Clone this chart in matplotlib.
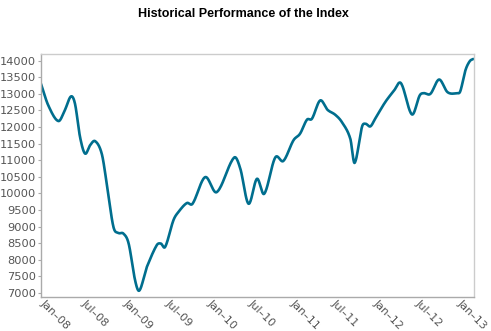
import numpy as np
import pandas as pd
import matplotlib
matplotlib.use("Agg")
import matplotlib.pyplot as plt
import matplotlib.dates as mdates

# Index level at turning points and in-between readings
dates = [
    "2007-12-12", "2008-01-13", "2008-02-26", "2008-03-25", "2008-04-21",
    "2008-05-09", "2008-05-31", "2008-06-22", "2008-07-14", "2008-08-05",
    "2008-09-03", "2008-09-25", "2008-10-24", "2008-11-15", "2008-12-07",
    "2008-12-30", "2009-01-27", "2009-02-14", "2009-03-12", "2009-03-20",
    "2009-05-02", "2009-05-20", "2009-06-08", "2009-07-14", "2009-08-05",
    "2009-09-11", "2009-10-06", "2009-11-30", "2010-01-20", "2010-04-06",
    "2010-05-03", "2010-06-08", "2010-07-15", "2010-08-16", "2010-10-03",
    "2010-11-08", "2010-12-22", "2011-01-20", "2011-02-19", "2011-03-13",
    "2011-04-18", "2011-05-20", "2011-06-23", "2011-07-22", "2011-08-28",
    "2011-09-16", "2011-10-18", "2011-11-02", "2011-11-24", "2011-12-15",
    "2012-01-28", "2012-03-05", "2012-04-06", "2012-05-24", "2012-06-27",
    "2012-07-14", "2012-08-13", "2012-09-20", "2012-10-27", "2012-12-08",
    "2012-12-22", "2013-01-13", "2013-02-01", "2013-02-17",
]
index_values = [
    13300, 12650, 12180, 12500, 12920,
    12700, 11700, 11200, 11450, 11575,
    11200, 10300, 9000, 8810, 8790,
    8490, 7390, 7070, 7590, 7790,
    8440, 8490, 8390, 9190, 9440,
    9710, 9690, 10490, 10040, 11080,
    10750, 9690, 10440, 9990, 11080,
    10980, 11600, 11800, 12220, 12250,
    12800, 12520, 12370, 12150, 11650,
    10920, 12000, 12100, 12020, 12250,
    12750, 13080, 13320, 12380, 12950,
    13020, 13000, 13430, 13050, 13020,
    13080, 13700, 13980, 14050,
]

x_tick_labels = ["Jan–08", "Jul–08", "Jan–09", "Jul–09", "Jan–10", "Jul–10",
                 "Jan–11", "Jul–11", "Jan–12", "Jul–12", "Jan–13"]
y_ticks = list(range(7000, 14001, 500))
x_range = ("2007-12-12", "2013-02-20")


def smooth_curve(x, y, per_segment=20):
    """Cubic Hermite curve through (x, y) with central-difference slopes."""
    x = np.asarray(x, float)
    y = np.asarray(y, float)
    n = len(x)
    m = np.zeros(n)
    m[0] = (y[1] - y[0]) / (x[1] - x[0])
    m[-1] = (y[-1] - y[-2]) / (x[-1] - x[-2])
    for i in range(1, n - 1):
        m[i] = (y[i + 1] - y[i - 1]) / (x[i + 1] - x[i - 1])
    xs, ys = [], []
    for i in range(n - 1):
        h = x[i + 1] - x[i]
        t = np.linspace(0, 1, per_segment, endpoint=False)
        h00 = 2 * t**3 - 3 * t**2 + 1
        h10 = t**3 - 2 * t**2 + t
        h01 = -2 * t**3 + 3 * t**2
        h11 = t**3 - t**2
        xs.append(x[i] + t * h)
        ys.append(h00 * y[i] + h10 * h * m[i] + h01 * y[i + 1] + h11 * h * m[i + 1])
    xs.append([x[-1]])
    ys.append([y[-1]])
    return np.concatenate(xs), np.concatenate(ys)


def to_num(values):
    return mdates.date2num(pd.to_datetime(values).to_pydatetime())


cx, cy = smooth_curve(to_num(dates), index_values)

fig = plt.figure(figsize=(4.91, 3.31), dpi=100)
ax = fig.add_axes([0.0835, 0.1027, 0.8819, 0.7342])

ax.plot(cx, cy, color="#006e8e", linewidth=1.9, solid_capstyle="round",
        solid_joinstyle="round")

tick_dates = pd.date_range("2008-01-01", "2013-01-01", freq="6MS")
ax.set_xticks(to_num(tick_dates))
ax.set_xticklabels(x_tick_labels, rotation=-45, ha="left", va="top",
                   rotation_mode="anchor", fontsize=8.0, color="#555555")
ax.set_xlim(*to_num(list(x_range)))
ax.set_yticks(y_ticks)
ax.set_yticklabels([str(v) for v in y_ticks], fontsize=8.2, color="#555555")
ax.set_ylim(6880, 14200)

ax.tick_params(axis="x", length=0, pad=1)
ax.tick_params(axis="y", length=2.5, width=0.8, color="#aaaaaa", pad=1.2)

for side, spine in ax.spines.items():
    spine.set_color("#cccccc")
    spine.set_linewidth(1.0)
ax.spines["left"].set_color("#aaaaaa")
ax.spines["bottom"].set_color("#aaaaaa")

fig.text(0.495, 0.958, "Historical Performance of the Index",
         ha="center", va="center", fontsize=9.0, fontweight="bold",
         family="Liberation Sans", color="#000000")

fig.savefig("out.png", dpi=100)
